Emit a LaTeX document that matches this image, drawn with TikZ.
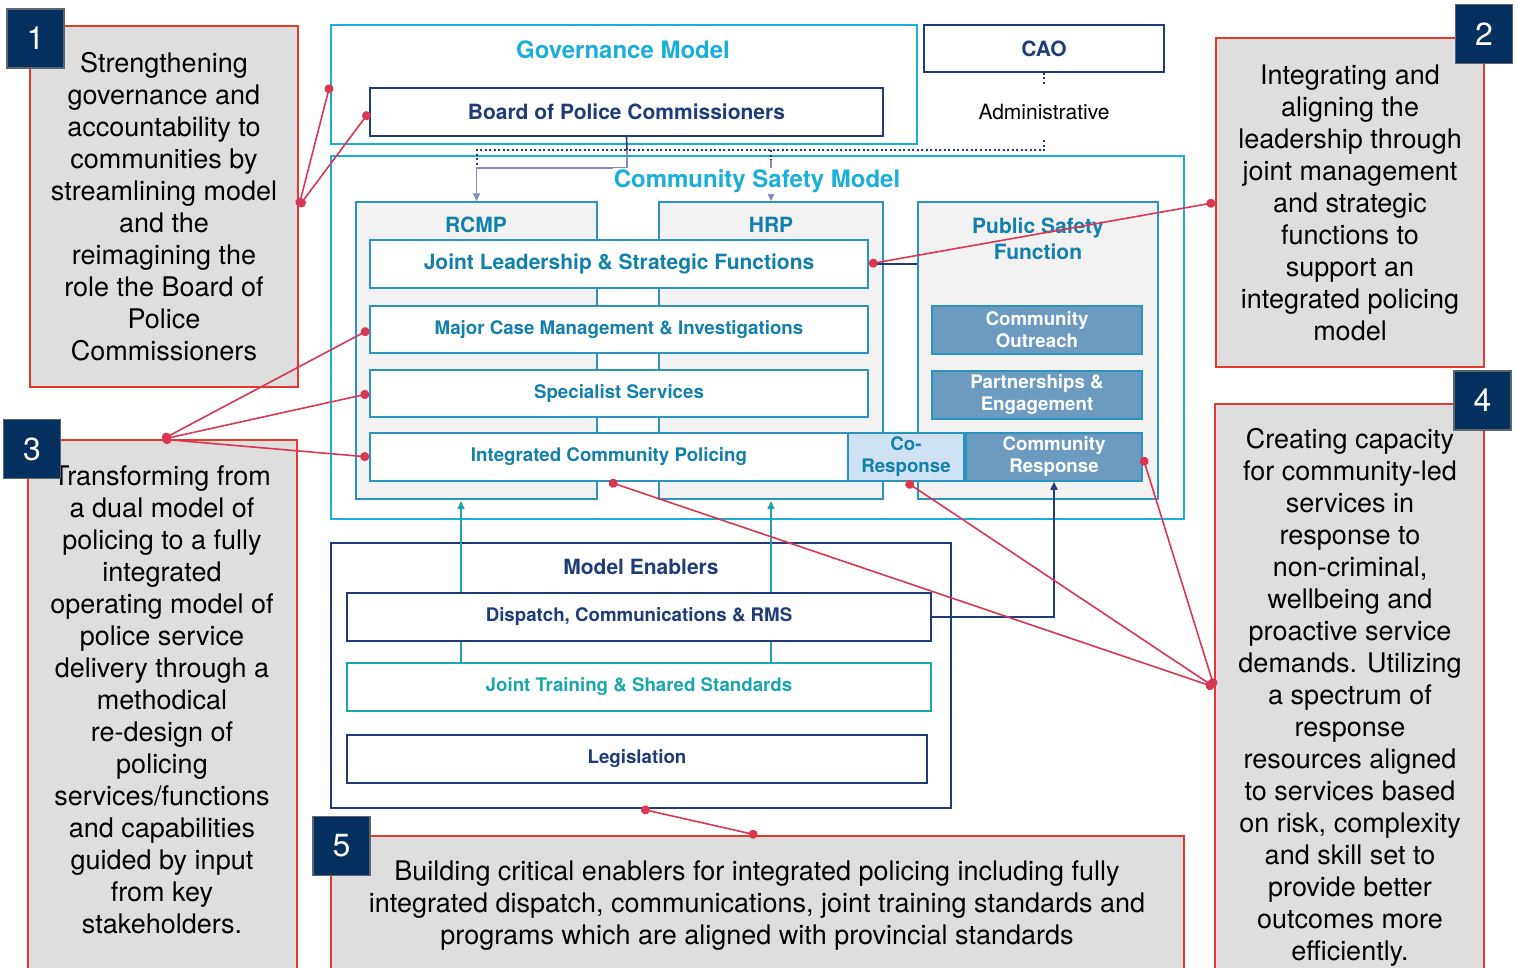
\documentclass[tikz,border=0pt]{standalone}
\usepackage{fontspec}
\setmainfont{TeX Gyre Heros}
\usetikzlibrary{arrows.meta,positioning,calc}
\definecolor{navy}{HTML}{1F3C78}
\definecolor{tagblue}{HTML}{04305F}
\definecolor{tagedge}{HTML}{5C6670}
\definecolor{cyanline}{HTML}{1AAFD8}
\definecolor{tealblue}{HTML}{1380AC}
\definecolor{colline}{HTML}{2B93BE}
\definecolor{colfill}{HTML}{F2F2F2}
\definecolor{steel}{HTML}{6B9BC1}
\definecolor{paleblue}{HTML}{CFE2F3}
\definecolor{trainteal}{HTML}{1CA6AE}
\definecolor{lavender}{HTML}{8A8AC2}
\definecolor{notefill}{HTML}{DEDEDE}
\definecolor{noteedge}{HTML}{E5392D}
\definecolor{linkred}{HTML}{DA3753}
\tikzset{
  notebox/.style={draw=noteedge, line width=1.5pt, fill=notefill},
  notetext/.style={font=\fontsize{27}{32}\selectfont, align=center, text=black},
  numtag/.style={draw=tagedge, line width=1.5pt, fill=tagblue, text=white,
    font=\fontsize{32}{32}\selectfont, minimum width=57pt, minimum height=59pt, inner sep=0pt},
  calllink/.style={draw=linkred, line width=1.6pt, {Circle[length=9pt]}-{Circle[length=9pt]}},
  bigbox/.style={draw=cyanline, line width=1.8pt, inner sep=0pt},
  bigtitle/.style={font=\bfseries\fontsize{24}{28}\selectfont, text=cyanline},
  svccol/.style={draw=colline, fill=colfill, line width=1.5pt, inner sep=0pt},
  collabel/.style={font=\bfseries\fontsize{21}{26}\selectfont, text=tealblue, align=center},
  unitrow/.style={draw=colline, fill=white, line width=1.6pt, text=tealblue, align=center,
    font=\bfseries\fontsize{18.7}{22}\selectfont, inner sep=0pt},
  steelrow/.style={unitrow, fill=steel, text=white},
  navyrow/.style={draw=navy, fill=white, line width=1.6pt, text=navy, align=center,
    font=\bfseries\fontsize{18.7}{22}\selectfont, inner sep=0pt},
  govdots/.style={draw=navy, line width=2.4pt, dash pattern=on 2pt off 2.5pt},
  lavline/.style={draw=lavender, line width=1.8pt, -{Triangle[length=8pt,width=7pt]}},
  tealline/.style={draw=trainteal, line width=1.6pt},
  tealarrow/.style={tealline, -{Triangle[length=8pt,width=7pt]}},
  navyline/.style={draw=navy, line width=1.6pt}
}
\begin{document}
\begin{tikzpicture}[x=1pt,y=-1pt]
\useasboundingbox (0,0) rectangle (1518,967);
\clip (0,0) rectangle (1518,967);

% governance
\node[bigbox, minimum width=586pt, minimum height=119pt] (gov) at (624,84.5) {};
\node[bigtitle] (govtitle) at (623,50) {Governance Model};
\node[navyrow, font=\bfseries\fontsize{21}{24}\selectfont, minimum width=513pt, minimum height=48pt] (board) at (626.5,112) {Board of Police Commissioners};
\node[navyrow, font=\bfseries\fontsize{21}{24}\selectfont, minimum width=240pt, minimum height=47pt] (cao) at (1044,48.5) {CAO};
\node[font=\fontsize{21}{24}\selectfont, inner sep=20pt] (admin) at (1044,112) {Administrative};

% community safety model
\node[bigbox, minimum width=853pt, minimum height=363pt] (csm) at (757.5,337.5) {};
\node[svccol, minimum width=241pt, minimum height=297pt] (rcmp) at (476.5,350.5) {};
\node[svccol, minimum width=224pt, minimum height=297pt] (hrp) at (771,350.5) {};
\node[svccol, minimum width=240pt, minimum height=297pt] (psf) at (1038,350.5) {};
\node[collabel] (rcmplabel) at (476,225) {RCMP};
\node[collabel] (hrplabel) at (771,225) {HRP};
\node[collabel] (psflabel) at (1038,239) {Public Safety\\Function};

\node[unitrow, font=\bfseries\fontsize{21}{24}\selectfont, minimum width=498pt, minimum height=48pt] (jls) at (619,264) {Joint Leadership \& Strategic Functions};
\node[unitrow, minimum width=498pt, minimum height=47pt] (mcm) at (619,329.5) {Major Case Management \& Investigations};
\node[unitrow, minimum width=498pt, minimum height=47pt] (ss) at (619,393.5) {Specialist Services};
\node[unitrow, minimum width=478pt, minimum height=48pt] (icp) at (609,457) {Integrated Community Policing};
\node[unitrow, fill=paleblue, minimum width=116pt, minimum height=48pt] (cor) at (906,457) {Co-\\Response};
\node[steelrow, minimum width=176pt, minimum height=48pt] (cr) at (1054,457) {Community\\Response};
\node[steelrow, minimum width=210pt, minimum height=48pt] (co) at (1037,330) {Community\\Outreach};
\node[steelrow, minimum width=210pt, minimum height=48pt] (pe) at (1037,395) {Partnerships \&\\Engagement};

% model enablers
\node[draw=navy, line width=1.8pt, minimum width=620pt, minimum height=265pt] (me) at (641,675.5) {};
\node[font=\bfseries\fontsize{21}{24}\selectfont, text=navy] (metitle) at (641,567) {Model Enablers};
\node[navyrow, minimum width=584pt, minimum height=48pt] (dcr) at (639,617) {Dispatch, Communications \& RMS};
\node[unitrow, draw=trainteal, text=trainteal, minimum width=584pt, minimum height=48pt] (jts) at (639,687) {Joint Training \& Shared Standards};
\node[navyrow, minimum width=580pt, minimum height=48pt] (leg) at (637,759) {Legislation};

% reporting lines
\coordinate (dotR) at (1044,150);
\coordinate (dotL) at (477,150);
\coordinate (bjoin) at (627,150);
\coordinate (lavturn) at (627,168);
\coordinate (hrpdot) at (771,160);
\draw[govdots] (cao.south) -- (admin.north);
\draw[govdots] (admin.south) -- (dotR) -- (dotL) -- (dotL |- lavturn);
\draw[govdots] (hrp.north |- dotR) -- (hrpdot);
\draw[navyline] (board.south) -- (bjoin);
\draw[lavline] (bjoin) -- (lavturn) -| (rcmp.north);
\draw[lavline] (hrpdot) -- (hrp.north);
\node[bigtitle, fill=white, inner sep=1pt] (csmtitle) at (757,181) {Community Safety Model};
\draw[navyline] (jls.east) -- (jls.east -| psf.west);

\coordinate (upL) at (461,501);
\coordinate (upR) at (771,501);
\draw[tealarrow] (dcr.north -| upL) -- (upL);
\draw[tealarrow] (dcr.north -| upR) -- (upR);
\draw[tealline] (jts.north -| upL) -- (dcr.south -| upL);
\draw[tealline] (jts.north -| upR) -- (dcr.south -| upR);
\draw[navyline, -{Triangle[length=8pt,width=7pt]}] (dcr.east) -| (cr.south);

% callouts
\node[notebox, notetext, minimum width=268pt, minimum height=361pt] (box1) at (164,206.5) {Strengthening\\governance and\\accountability to\\communities by\\streamlining model\\and the\\reimagining the\\role the Board of\\Police\\Commissioners};
\node[notebox, notetext, minimum width=268pt, minimum height=329pt] (box2) at (1350,202.5) {Integrating and\\aligning the\\leadership through\\joint management\\and strategic\\functions to\\support an\\integrated policing\\model};
\node[notebox, minimum width=269pt, minimum height=550pt] (box3) at (162.5,715) {};
\node[notetext] (txt3) at (162,700) {Transforming from\\a dual model of\\policing to a fully\\integrated\\operating model of\\police service\\delivery through a\\methodical\\re-design of\\policing\\services/functions\\and capabilities\\guided by input\\from key\\stakeholders.};
\node[notebox, minimum width=269pt, minimum height=566pt] (box4) at (1349.5,687) {};
\node[notetext] (txt4) at (1350,697) {Creating capacity\\for community-led\\services in\\response to\\non-criminal,\\wellbeing and\\proactive service\\demands. Utilizing\\a spectrum of\\response\\resources aligned\\to services based\\on risk, complexity\\and skill set to\\provide better\\outcomes more\\efficiently.};
\node[notebox, minimum width=853pt, minimum height=154pt] (box5) at (757.5,913) {};
\node[notetext] (txt5) at (757,906) {Building critical enablers for integrated policing including fully\\integrated dispatch, communications, joint training standards and\\programs which are aligned with provincial standards};

\node[numtag] (tag1) at (35.5,38.5) {1};
\node[numtag] (tag2) at (1484,34) {2};
\node[numtag] (tag3) at (32,449) {3};
\node[numtag] (tag4) at (1482.5,400.5) {4};
\node[numtag] (tag5) at (341.5,846) {5};

\draw[calllink] (box1.east) -- (gov.west);
\draw[calllink] (box1.east) -- (board.west);
\draw[calllink] (box2.west) -- (jls.east);
\draw[calllink] (box3.north) -- (mcm.west);
\draw[calllink] (box3.north) -- (ss.west);
\draw[calllink] (box3.north) -- (icp.west);
\draw[calllink] (box4.west) -- (icp.south);
\draw[calllink] (box4.west) -- (cor.south);
\draw[calllink] (box4.west) -- (cr.east);
\draw[calllink] (box5.north) -- (me.south);
\end{tikzpicture}
\end{document}
